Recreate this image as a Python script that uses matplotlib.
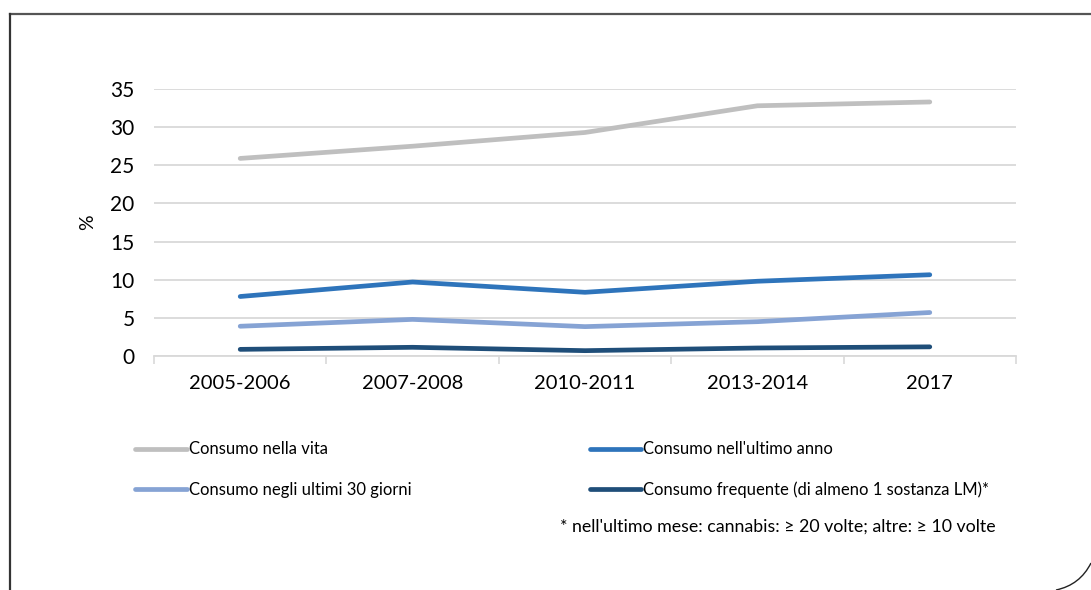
#!/usr/bin/env python3

import matplotlib
matplotlib.use("Agg")
import matplotlib.pyplot as plt
from matplotlib.patches import PathPatch
from matplotlib.path import Path
from matplotlib.lines import Line2D

plt.rcParams['font.family'] = ['Lato', 'DejaVu Sans']

periods = ["2005-2006", "2007-2008", "2010-2011", "2013-2014", "2017"]
vita = [25.9, 27.5, 29.3, 32.8, 33.3]
ultimo_anno = [7.8, 9.7, 8.35, 9.8, 10.65]
ultimi_30 = [3.9, 4.8, 3.85, 4.5, 5.7]
frequente = [0.87, 1.14, 0.7, 1.05, 1.2]

labels = ["Consumo nella vita", "Consumo nell'ultimo anno",
          "Consumo negli ultimi 30 giorni", "Consumo frequente (di almeno 1 sostanza LM)*"]
colors = ["#bfbfbf", "#2e74bb", "#86a3d4", "#1f4e79"]
series = [vita, ultimo_anno, ultimi_30, frequente]

W, H = 1091, 590
fig = plt.figure(figsize=(W / 100, H / 100), dpi=100)
ax = fig.add_axes([154 / W, 1 - 356 / H, (1016 - 154) / W, (356 - 89) / H])

x = list(range(len(periods)))
for vals, c in zip(series, colors):
    ax.plot(x, vals, color=c, lw=3.4, solid_capstyle='round', zorder=3)

ax.set_xlim(-0.5, len(periods) - 0.5)
ax.set_ylim(0, 35)
ax.set_yticks(range(0, 36, 5))
ax.set_xticks(x)
ax.set_xticklabels(periods)
ax.set_xticks([i - 0.5 for i in range(len(periods) + 1)], minor=True)
ax.tick_params(axis='x', which='major', length=0, pad=14, labelsize=14.5)
ax.tick_params(axis='x', which='minor', length=6, color='#d9d9d9', width=1.2)
ax.tick_params(axis='y', length=0, pad=14, labelsize=15)
ax.yaxis.grid(True, color='#d9d9d9', lw=1.3)
ax.set_axisbelow(True)
for s in ['top', 'right', 'left']:
    ax.spines[s].set_visible(False)
ax.spines['bottom'].set_color('#d9d9d9')
ax.spines['bottom'].set_linewidth(1.3)
ax.set_ylabel("%", fontsize=14, labelpad=10)

handles = [Line2D([], [], color=c, lw=3.4, solid_capstyle='round') for c in colors]
order = [0, 2, 1, 3]
fig.legend([handles[i] for i in order], [labels[i] for i in order],
           ncol=2, loc='upper left', bbox_to_anchor=(127 / W, 1 - 433 / H),
           frameon=False, fontsize=12, handlelength=3.1, handletextpad=0.1,
           columnspacing=10.7, labelspacing=1.45, borderpad=0)

fig.text(560 / W, 1 - 527 / H,
         "* nell'ultimo mese: cannabis: \u2265 20 volte; altre: \u2265 10 volte",
         fontsize=12.8, va='center', ha='left')

# frame around the figure
fig.add_artist(Line2D([9.5 / W, 1], [1 - 13.5 / H, 1 - 13.5 / H],
                      transform=fig.transFigure, color='#555555', lw=1.6))
fig.add_artist(Line2D([9.5 / W, 9.5 / W], [0, 1 - 13.5 / H],
                      transform=fig.transFigure, color='#333333', lw=1.6))
curve = Path([(1091 / W, 1 - 563 / H), (1080 / W, 1 - 585 / H), (1056 / W, 0)],
             [Path.MOVETO, Path.CURVE3, Path.CURVE3])
fig.add_artist(PathPatch(curve, transform=fig.transFigure, fill=False,
                         edgecolor='#222222', lw=1.0))

fig.savefig("out.png", dpi=100)
